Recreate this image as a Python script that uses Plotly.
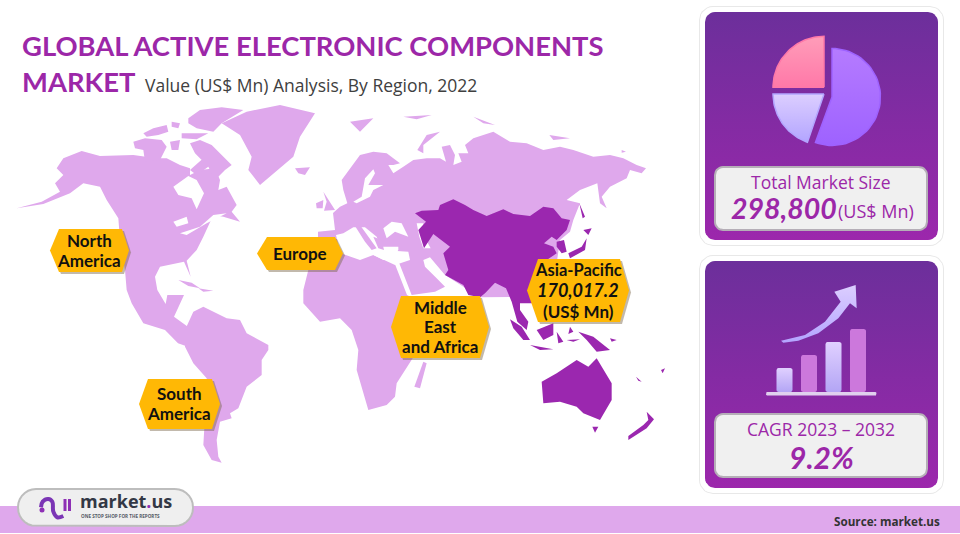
import numpy as np
import plotly.graph_objects as go

# ---------- chart values ----------
REGION_LABELS = ["North<br>America", "Europe", "South<br>America", "Middle<br>East<br>and Africa"]
APAC_NAME = "Asia-Pacific"
APAC_VALUE = "170,017.2"
UNIT = "(US$ Mn)"
TOTAL_VALUE = "298,800"
CAGR_VALUE = "9.2%"
CAGR_LABEL = "CAGR 2023 – 2032"
BAR_HEIGHTS = [24, 37, 50, 63]
PIE_ANGLES = [(-90, 0), (0, 200), (180, 250)]

LIGHT = "#DFA8EC"
DARK = "#9B27AF"
ORANGE = "#FFB805"
TEXT_P = "#9C27A8"

# ---------- map outlines (crop coords: 3x with an origin) ----------
Z1 = (0, 90)
Z2 = (340, 90)
Z3 = (100, 270)
Z4 = (380, 260)
Z5 = (125, 100)
Z6 = (310, 140)

NORTH_AMERICA = [(170,235),(190,205),(245,183),(300,198),(400,195),(470,205),(500,205),(540,225),(570,235),(570,255),
 (600,240),(645,235),(660,270),(655,300),(680,290),(710,345),(695,365),(720,395),(670,380),(640,375),(610,440),(590,480),
 (560,512),(572,560),(552,515),(480,530),(465,560),(472,600),(497,642),(502,615),(552,615),(522,680),(603,739),(606,775),
 (585,778),(534,760),(495,720),(430,700),(395,640),(380,600),(375,540),(360,450),(355,385),(320,330),(300,290),(250,280),
 (210,310),(130,342),(50,355),(125,335),(180,305),(165,280),(190,255)]
HUDSON = [(520,290),(565,258),(590,270),(612,310),(590,358),(575,325),(535,315)]
GREAT_LAKES = [[(520,395),(560,380),(565,400),(530,410)],[(540,430),(600,410),(640,375),(680,370),(620,400),(560,435)]]
ARCTIC_CANADA = [[(190,55),(225,30),(290,22),(355,30),(290,70),(265,95),(215,85),(190,70)],
 [(140,65),(165,70),(160,85),(140,80)],
 [(55,100),(85,85),(125,75),(130,95),(100,105),(65,110)],
 [(25,125),(60,115),(110,120),(125,140),(105,180),(60,185),(55,150),(30,145)],
 [(135,125),(165,120),(160,150),(140,150)],
 [(195,130),(225,120),(260,135),(320,195),(300,210),(270,240),(250,200),(210,160)],
 [(170,100),(250,100),(215,118),(170,115)],
 [(195,210),(240,170),(250,200),(215,225)]]
GREENLAND = [(665,100),(740,65),(840,45),(945,70),(900,140),(880,200),(780,285),(745,240),(755,200),(720,135)]
ICELAND = [(885,235),(930,232),(915,255),(895,250)]
BRITAIN = [(40,155),(65,195),(75,210),(42,212),(50,185)]
IRELAND = [(18,190),(40,180),(38,205),(20,205)]

EURASIA = [(-66,425),(-15,420),(-21,369),(0,350),(22,340),(10,300),(5,270),(30,235),(60,195),(100,185),(140,190),(180,220),
 (160,225),(145,225),(160,250),(190,230),(220,210),(260,205),(300,205),(318,215),(305,170),(330,165),(345,195),(340,225),
 (365,215),(355,190),(385,190),(375,165),(400,145),(460,125),(510,155),(560,160),(610,180),(660,170),(700,180),(760,200),
 (810,195),(850,205),(890,225),(918,235),(905,250),(870,240),(860,265),(810,290),(785,320),(800,355),(780,340),(772,280),
 (720,300),(680,330),(720,340),(700,390),(690,425),(660,450),(650,520),(640,620),(420,622),(315,555),(270,502),(250,510),
 (255,530),(290,565),(315,590),(285,605),(215,615),(174,510),(168,490),(175,480),(175,470),(120,470),(30,420),(0,445),
 (-15,490),(-66,470)]
BLACK_SEA = [(220,265),(245,245),(275,250),(295,290),(255,275),(230,295)]
CASPIAN = [(320,250),(340,250),(340,285),(362,325),(340,325),(328,290)]
BALTIC = [(130,185),(155,170),(165,115),(190,88),(195,100),(175,135),(220,135),(190,150),(180,170),(140,190)]
MEDITERRANEAN = [(78,285),(100,280),(130,262),(165,262),(200,290),(215,330),(295,335),(300,360),(255,375),(190,345),(165,345),
 (150,325),(120,320),(85,315)]
ITALY = [(135,258),(150,255),(200,325),(185,330),(165,305)]
GREECE = [(190,290),(215,300),(222,330),(205,325)]
RUSSIA_ISLES = [[(30,95),(100,85),(60,125)],[(190,80),(275,75),(230,88)],[(400,80),(465,105),(430,100)],
 [(628,135),(690,145),(640,150)],[(845,180),(858,185),(845,188)],[(232,180),(260,135),(300,125),(250,165),(250,190)]]

AFRICA = [(625,0),(650,-40),(720,-51),(780,-30),(820,-45),(850,-30),(880,-30),(921,75),(990,110),(1000,150),(960,230),
 (925,285),(890,340),(885,380),(860,405),(805,420),(790,370),(770,300),(775,240),(755,180),(720,145),(660,155),(610,100),(610,60)]
MADAGASCAR = [(130,305),(140,310),(120,385),(103,380)]
SOUTH_AMERICA = [(255,205),(255,180),(280,125),(310,110),(380,145),(420,150),(440,190),(505,225),(505,240),(485,270),(485,315),
 (440,350),(415,415),(390,430),(395,445),(360,455),(350,510),(355,560),(365,578),(335,570),(310,525),(315,440),(330,380),
 (320,325),(280,280),(255,230)]
CARIBBEAN = [[(235,30),(275,38),(300,55),(265,48)],[(295,55),(340,62),(310,65)]]

ASIA_PACIFIC = [(225,370),(245,362),(295,360),(300,345),(340,328),(375,345),(400,360),(440,378),(490,358),(520,372),(570,378),
 (610,350),(640,355),(665,385),(690,390),(680,420),(650,450),(635,440),(612,460),(640,470),(650,490),(620,510),(640,600),
 (575,640),(540,640),(540,660),(565,695),(560,720),(532,695),(515,635),(498,595),(465,578),(435,610),(420,622),(385,615),
 (370,585),(315,555),(325,540),(310,490),(330,470),(280,432),(252,475),(235,420),(258,395)]
KOREA = [(650,455),(672,450),(680,485),(665,490),(650,470)]
JAPAN = [[(718,340),(735,380),(728,385)],[(730,420),(755,415),(745,435)],[(740,445),(735,480),(690,505),(685,490),(725,470)]]
OCEANIA = [[(485,365),(530,340),(590,300),(625,320),(650,295),(695,370),(695,420),(660,480),(610,460),(590,440),(540,425),(490,430)],
 [(637,500),(655,500),(645,518)],[(800,455),(822,478),(800,505),(745,540),(745,528),(790,495),(805,480)],
 [(390,178),(425,200),(450,240),(430,240),(400,205)],[(450,255),(520,268),(480,270)],[(470,210),(520,190),(520,225),(490,240)],
 [(530,215),(550,245),(535,250)],[(595,215),(640,230),(690,270),(650,275),(620,240)],[(768,350),(785,365),(775,362)],
 [(843,330),(855,325),(848,340)],[(570,200),(580,215),(565,222)],[(560,240),(600,238),(580,245)],[(690,235),(710,240),(695,245)]]

HEX_BOXES = {
 "na": (50, 59, 122, 129, 229, 272),
 "eu": (257, 267, 335, 343, 237, 270),
 "sa": (139, 148, 212, 220, 379, 429),
 "mea": (391, 401, 480, 489, 296, 358),
 "ap": (527, 538, 620, 629, 259, 322),
}

# ---------- helpers ----------
fig = go.Figure()

def real(pts, origin):
    return [origin[0] + p[0] / 3 for p in pts], [origin[1] + p[1] / 3 for p in pts]

def poly(polys, origin, color):
    xs, ys = [], []
    for p in polys:
        x, y = real(p, origin)
        xs += x + [x[0], None]
        ys += y + [y[0], None]
    fig.add_trace(go.Scatter(x=xs, y=ys, mode="lines", fill="toself", fillcolor=color,
                             line=dict(width=0, color=color), hoverinfo="skip"))

def shape(xs, ys, color=None, grad=None, line=None, lw=0):
    kw = dict(x=xs, y=ys, mode="lines", fill="toself", hoverinfo="skip",
              line=dict(width=lw, color=line or "rgba(0,0,0,0)"))
    if grad:
        # the y axis runs downwards, so the gradient stops are given bottom first
        kw["fillgradient"] = dict(type="vertical", colorscale=[[0, grad[1]], [1, grad[0]]])
    else:
        kw["fillcolor"] = color
    fig.add_trace(go.Scatter(**kw))

def rrect_xy(x0, x1, y0, y1, r):
    t = np.linspace(0, np.pi / 2, 8)
    xs = np.r_[x1 - r + r * np.sin(t), x1 - r + r * np.cos(t), x0 + r - r * np.sin(t), x0 + r - r * np.cos(t)]
    ys = np.r_[y0 + r - r * np.cos(t), y1 - r + r * np.sin(t), y1 - r + r * np.cos(t), y0 + r - r * np.sin(t)]
    return list(xs) + [xs[0]], list(ys) + [ys[0]]

def rrect(x0, x1, y0, y1, r, color=None, grad=None, line=None, lw=0):
    xs, ys = rrect_xy(x0, x1, y0, y1, r)
    shape(xs, ys, color, grad, line, lw)

def text(x, y, s, size, color="#111111", family="Lato", anchor="center", bold=False, italic=False):
    if italic:
        s = f"<i>{s}</i>"
    if bold:
        s = f"<b>{s}</b>"
    fig.add_annotation(x=x, y=y, xref="x", yref="y", text=s, showarrow=False, xanchor=anchor, yanchor="middle",
                       font=dict(size=size, color=color, family=family), align="center")

def label_lines(x, y, label, size=17, step=19.5):
    lines = label.split("<br>")
    for i, line in enumerate(lines):
        text(x, y + (i - (len(lines) - 1) / 2) * step, line, size, bold=True)

def hexagon(box):
    a, b, c, d, t, m = box
    mid = (t + m) / 2
    xs = [a, b, c, d, c, b, a]
    ys = [mid, t, t, mid, m, m, mid]
    shape([v + 2 for v in xs], [v + 2 for v in ys], color="rgba(120,100,70,0.45)")
    shape(xs, ys, color=ORANGE)

def wedge(cx, cy, r, a0, a1, grad):
    t = np.radians(np.linspace(a0, a1, 50))
    xs = [cx] + list(cx + r * np.sin(t)) + [cx]
    ys = [cy] + list(cy - r * np.cos(t)) + [cy]
    shape(xs, ys, grad=grad, line=grad[1], lw=1.5)

# ---------- map ----------
poly([NORTH_AMERICA, GREENLAND, ICELAND], Z1, LIGHT)
poly(ARCTIC_CANADA, Z5, LIGHT)
poly([EURASIA] + RUSSIA_ISLES, Z2, LIGHT)
poly([AFRICA, SOUTH_AMERICA] + CARIBBEAN, Z3, LIGHT)
poly([MADAGASCAR], Z4, LIGHT)
poly([HUDSON] + GREAT_LAKES, Z1, "#FFFFFF")
poly([BLACK_SEA, CASPIAN, BALTIC, MEDITERRANEAN], Z6, "#FFFFFF")
poly([BRITAIN, IRELAND, ITALY, GREECE], Z6, LIGHT)
poly([ASIA_PACIFIC, KOREA] + JAPAN, Z2, DARK)
poly(OCEANIA, Z4, DARK)

for k in HEX_BOXES:
    hexagon(HEX_BOXES[k])
label_lines(89, 250.5, REGION_LABELS[0])
label_lines(300, 253, REGION_LABELS[1])
label_lines(179, 403.5, REGION_LABELS[2])
label_lines(440, 326.5, REGION_LABELS[3])
text(578, 270, APAC_NAME, 16.5, bold=True)
text(578, 290, APAC_VALUE, 18, bold=True, italic=True)
text(578, 311, UNIT, 17, bold=True)

# ---------- title ----------
text(20, 45, "GLOBAL ACTIVE ELECTRONIC COMPONENTS", 27.4, TEXT_P, anchor="left", bold=True)
text(20, 81, "MARKET", 27.4, TEXT_P, anchor="left", bold=True)
text(143, 85, "Value (US$ Mn) Analysis, By Region, 2022", 17.5, "#404040", "Open Sans", anchor="left")

# ---------- right panels ----------
PANEL_GRAD = ("#6C2F9B", "#9C27AC")
rrect(699, 944, 6, 246, 14, color="#E8E8E8")
rrect(700, 943, 7, 245, 13, color="#FFFFFF")
rrect(705, 938, 12, 240, 10, grad=PANEL_GRAD)
rrect(699, 944, 255, 494, 14, color="#E8E8E8")
rrect(700, 943, 256, 493, 13, color="#FFFFFF")
rrect(705, 938, 261, 488, 10, grad=PANEL_GRAD)
rrect(715, 927, 167, 230, 8, color="#F0F0F0", line="#B5AEB7", lw=2)
rrect(715, 927, 414, 477, 8, color="#F0F0F0", line="#B5AEB7", lw=2)

# pie icon
wedge(824, 87.3, 51, PIE_ANGLES[0][0], PIE_ANGLES[0][1], ("#FF9DB9", "#FF78A8"))
wedge(832, 97, 48.5, PIE_ANGLES[1][0], PIE_ANGLES[1][1], ("#B57BFF", "#9E62FF"))
wedge(824, 94, 51, PIE_ANGLES[2][0] + 19, PIE_ANGLES[2][1] + 20, ("#DCCEFF", "#B3A5FF"))

# bars icon
BAR_X = [776.5, 801, 825.5, 850]
for i, h in enumerate(BAR_HEIGHTS):
    if i % 2 == 0:
        rrect(BAR_X[i], BAR_X[i] + 16, 392 - h, 392, 2, grad=("#E0D0FF", "#B3A5F5"))
    else:
        rrect(BAR_X[i], BAR_X[i] + 16, 392 - h, 392, 2, color="#CC78DC")
rrect(766, 876.5, 392, 395.5, 1, color="#E0D0EE")
arrow = [(258,272),(330,255),(390,215),(437,155),(418,125),(482,105),(485,175),(465,160),(430,205),(370,250),(310,272),(265,278)]
ax_, ay_ = real(arrow, (695, 250))
shape(ax_ + [ax_[0]], ay_ + [ay_[0]], grad=("#DCCEFF", "#B3A5FF"))

text(821, 182, "Total Market Size", 17.5, TEXT_P, "Open Sans")
text(729, 208, TOTAL_VALUE, 28.5, TEXT_P, anchor="left", bold=True, italic=True)
text(836, 211, UNIT, 18, TEXT_P, "Open Sans", anchor="left")
text(821, 429, CAGR_LABEL, 17.5, TEXT_P, "Open Sans")
text(821, 457, CAGR_VALUE, 30, TEXT_P, bold=True, italic=True)

# ---------- footer ----------
shape([0, 960, 960, 0, 0], [506, 506, 533, 533, 506], color=LIGHT)
rrect(18, 193, 489, 526, 18, color="#EFEFEF", line="#BDBDBD", lw=2)
LOGO_ARCH = [(123,82),(128,65),(145,57),(157,65),(160,95),(172,112),(190,108)]
lx, ly = real(LOGO_ARCH, (0, 480))
fig.add_trace(go.Scatter(x=lx, y=ly, mode="lines", line=dict(color="#7B35B5", width=4, shape="spline"), hoverinfo="skip"))
for bx in (65, 69.5):
    fig.add_trace(go.Scatter(x=[bx, bx], y=[499, 511], mode="lines", line=dict(color="#8E30B5", width=3), hoverinfo="skip"))
fig.add_trace(go.Scatter(x=[42], y=[510], mode="markers", marker=dict(color="#8E30B5", size=5), hoverinfo="skip"))
text(78, 501, "market<span style='color:#8E30B5'>.</span>us", 18, "#333845", "Open Sans", anchor="left", bold=True)
text(79, 516, "ONE STOP SHOP FOR THE REPORTS", 4.6, "#555A66", "Open Sans", anchor="left", bold=True)
text(942, 521, "Source: market.us", 11.7, "#333333", "Open Sans", anchor="right", bold=True)

fig.update_layout(
    width=960, height=534, margin=dict(l=0, r=0, t=0, b=0),
    paper_bgcolor="#FFFFFF", plot_bgcolor="#FFFFFF", showlegend=False, hovermode=False,
    xaxis=dict(range=[0, 960], visible=False, fixedrange=True),
    yaxis=dict(range=[534, 0], visible=False, fixedrange=True),
)
fig.write_html("out.html", config={"displayModeBar": False},
               post_script="document.documentElement.style.overflow='hidden';document.body.style.margin='0';")
